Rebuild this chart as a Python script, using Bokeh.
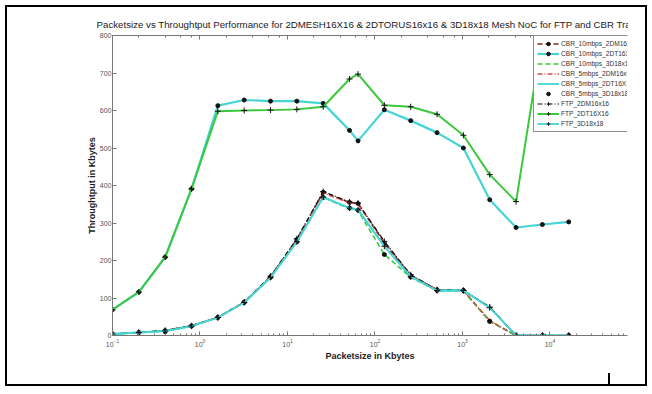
from bokeh.plotting import figure
from bokeh.layouts import column
from bokeh.models import (LogAxis, Range1d, Legend, LegendItem,
                          FixedTicker, LogTicker)
from bokeh.embed import file_html
from bokeh.resources import INLINE

# ---- data ----
packet_kb = [0.1, 0.2, 0.4, 0.8, 1.6, 3.2, 6.4, 12.8, 25.6, 51.2, 64,
             128, 256, 512, 1024, 2048, 4096, 8192, 16384]

cbr10_2dm = [4, 8, 13, 26, 48, 89, 157, 256, 382, 355, 352, 246, 160, 122, 120, 38, 0, 0, 0]
cbr10_2dt = [69, 116, 209, 391, 613, 628, 625, 625, 619, 547, 519, 602, 573, 541, 500, 362, 288, 296, 303]
cbr10_3d = [4, 8, 12, 25, 48, 88, 155, 250, 368, 338, 333, 216, 155, 119, 119, 38, 0, 0, 0]
cbr5_2dm = [4, 8, 12, 26, 48, 89, 157, 255, 380, 354, 350, 250, 161, 122, 120, 40, 0, 0, 0]
cbr5_2dt = [4, 8, 12, 25, 48, 88, 154, 250, 369, 340, 335, 238, 157, 120, 120, 75, 0, 0, 0]
cbr5_3d = [4, 8, 10, 25, 48, 88, 155, 250, 368, 340, 334, 216, 156, 120, 120, 38, 0, 0, 0]
ftp_2dm = [4, 8, 14, 26, 48, 89, 158, 258, 384, 356, 353, 251, 162, 122, 120, 76, 0, 0, 0]
ftp_2dt = [69, 116, 209, 391, 598, 600, 601, 603, 610, 684, 697, 614, 610, 590, 534, 429, 357, 800, 800]
ftp_3d = [4, 8, 12, 25, 48, 88, 155, 250, 369, 340, 335, 238, 157, 120, 120, 74, 0, 0, 0]

y_ticks = [0, 100, 200, 300, 400, 500, 600, 700, 800]

title_text = ("Packetsize vs Throughtput Performance for 2DMESH16X16 & 2DTORUS16x16 "
              "& 3D18x18 Mesh NoC for FTP and CBR Traffic")

W, H = 621, 365
p = figure(width=W, height=H, x_axis_type="log",
           x_range=Range1d(0.1, 7.69e4), y_range=Range1d(0, 800),
           output_backend="svg", toolbar_location=None,
           min_border_left=105, min_border_right=1,
           min_border_top=28, min_border_bottom=37)
p.outline_line_color = None
p.xgrid.visible = False
p.ygrid.visible = False
p.background_fill_color = "white"
p.border_fill_color = "white"

p.title.text = title_text
p.title.align = "center"
p.title.offset = 5
p.title.text_font = "Liberation Sans"
p.title.text_font_size = "9.7px"
p.title.text_font_style = "normal"
p.title.text_color = "#222222"
p.title.standoff = 12

AX = "#777777"
LBL = "#555555"

xa = p.xaxis[0]
xa.axis_label = "Packetsize in Kbytes"
xa.axis_label_text_font = "Liberation Sans"
xa.axis_label_text_font_size = "9px"
xa.axis_label_text_font_style = "bold"
xa.axis_label_text_color = "#222222"
xa.axis_label_standoff = 1
xa.major_label_text_font = "Liberation Sans"
xa.major_label_text_font_size = "7px"
xa.major_label_text_color = LBL
xa.major_label_standoff = 3
xa.major_tick_in = 4
xa.major_tick_out = 0
xa.minor_tick_in = 2
xa.minor_tick_out = 0
xa.axis_line_color = AX
xa.major_tick_line_color = AX
xa.minor_tick_line_color = AX

ya = p.yaxis[0]
ya.ticker = FixedTicker(ticks=y_ticks)
ya.axis_label = "Throughtput in Kbytes"
ya.axis_label_text_font = "Liberation Sans"
ya.axis_label_text_font_size = "9px"
ya.axis_label_text_font_style = "bold"
ya.axis_label_text_color = "#222222"
ya.axis_label_standoff = 0
ya.major_label_text_font = "Liberation Sans"
ya.major_label_text_font_size = "7px"
ya.major_label_text_color = LBL
ya.major_label_standoff = 1
ya.major_tick_in = 4
ya.major_tick_out = 0
ya.minor_tick_line_color = None
ya.axis_line_color = AX
ya.major_tick_line_color = AX

top = LogAxis(ticker=LogTicker(), major_label_text_font_size="2px",
              major_label_text_alpha=0, major_label_text_color=None,
              major_tick_in=4, major_tick_out=0, minor_tick_in=2, minor_tick_out=0,
              axis_line_color=AX, major_tick_line_color=AX, minor_tick_line_color=AX,
              major_label_standoff=0)
p.add_layout(top, "above")

GREEN = "#3cc83c"
CYAN = "#45d5d5"
DRED = "#8b2020"
RED = "#d44a4a"
BLACK = "#111111"

items = []

def add(label, y, color=None, dash="solid", width=1.5, marker=None, msize=4):
    rs = []
    if color is not None:
        rs.append(p.line(packet_kb, y, line_color=color, line_dash=dash, line_width=width))
    if marker == "dot":
        rs.append(p.scatter(packet_kb, y, marker="circle", size=msize,
                            fill_color=BLACK, line_color=BLACK))
    elif marker == "plus":
        rs.append(p.scatter(packet_kb, y, marker="cross", size=6,
                            line_color=BLACK, line_width=1))
    items.append(LegendItem(label=label, renderers=rs))

add("CBR_10mbps_2DM16x16", cbr10_2dm, DRED, "5 3", 1.6, "dot")
add("CBR_10mbps_2DT16X16", cbr10_2dt, CYAN, "solid", 2.2, "dot")
add("CBR_10mbps_3D18x18", cbr10_3d, GREEN, "5 3", 1.6, None)
add("CBR_5mbps_2DM16x16", cbr5_2dm, RED, "5 2 1 2", 1.4, None)
add("CBR_5mbps_2DT16X16", cbr5_2dt, CYAN, "solid", 1.8, None)
add("CBR_5mbps_3D18x18", cbr5_3d, None, "solid", 1, "dot")
add("FTP_2DM16x16", ftp_2dm, BLACK, "5 2 1 2", 1.2, "plus")
add("FTP_2DT16X16", ftp_2dt, GREEN, "solid", 2.0, "plus")
add("FTP_3D18x18", ftp_3d, CYAN, "solid", 1.8, "plus")

leg_h = 95
legend = Legend(items=items, location=(421, 300 - 2 - leg_h), margin=0,
                padding=3, spacing=1, glyph_height=9, glyph_width=22,
                label_height=9, label_standoff=2,
                label_text_font="Liberation Sans", label_text_font_size="6.6px",
                label_text_color="#333333",
                border_line_color="#222222", border_line_width=1,
                background_fill_color="white", background_fill_alpha=1)
p.add_layout(legend, "center")

# the picture sits in a bordered box (document frame) with a small rule mark
page = column(p, styles={
    "border": "2px solid black",
    "margin-left": "5px",
    "margin-top": "5px",
    "padding-right": "17px",
    "padding-bottom": "12px",
    "background-color": "white",
    "background-image": "linear-gradient(black, black)",
    "background-repeat": "no-repeat",
    "background-position": "601px 366px",
    "background-size": "2px 12px",
})

open("out.html", "w").write(file_html(page, INLINE))
